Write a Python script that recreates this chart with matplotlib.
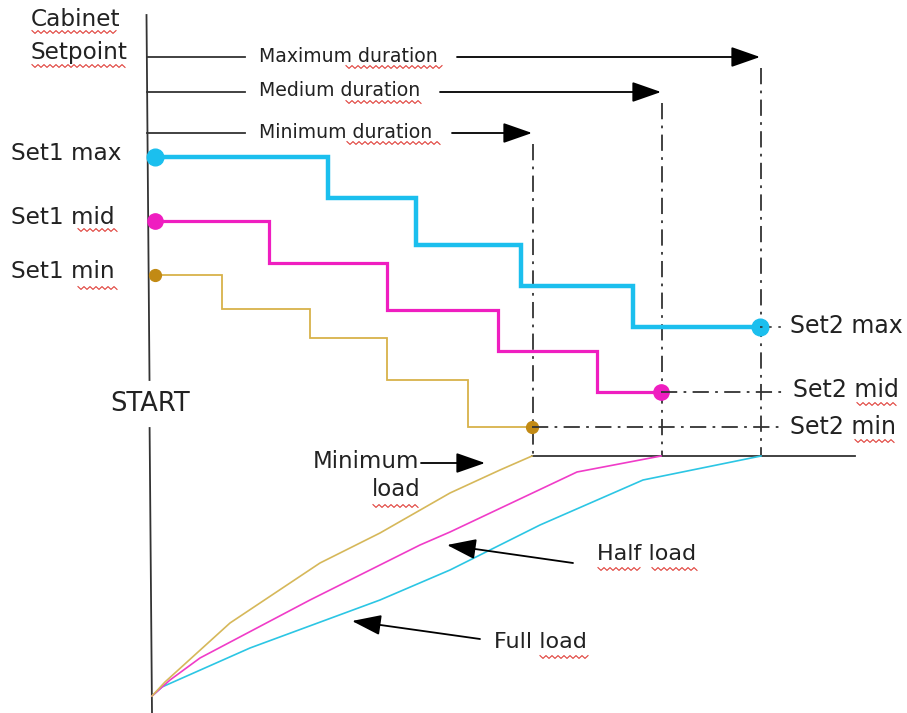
import numpy as np
import matplotlib.pyplot as plt

# step profiles (x breakpoints, y levels) in picture units
max_x = [155, 328, 416, 521, 633, 760]
max_y = [157, 198, 245, 286, 327]
mid_x = [155, 269, 387, 498, 597, 661]
mid_y = [221, 263, 310, 351, 392]
min_x = [155, 222, 310, 387, 468, 532]
min_y = [275, 309, 338, 380, 427]

# load curves
full_x = [152, 162, 250, 380, 450, 540, 643, 761]
full_y = [696, 687, 648, 600, 570, 525, 480, 456]
half_x = [152, 170, 200, 310, 420, 450, 577, 661]
half_y = [696, 680, 658, 600, 545, 532, 472, 456]
minl_x = [152, 165, 230, 320, 380, 450, 500, 532]
minl_y = [696, 682, 623, 563, 533, 493, 470, 456]

dur_labels = ["Maximum duration", "Medium duration", "Minimum duration"]
dur_y = [57, 92, 133]
dur_end = [760, 661, 532]
dur_arrow_start = [457, 440, 452]

set2_labels = ["Set2 max", "Set2 mid", "Set2 min"]
set1_labels = ["Set1 max", "Set1 mid", "Set1 min"]

cyan = "#1bbfee"
magenta = "#ef1ec0"
gold = "#d8b24a"
gold_dot = "#c28a14"
txt = "#222222"
dashdot = (0, (9, 3.5, 1.5, 3.5))

fig = plt.figure(figsize=(9.07, 7.13), dpi=100)
ax = fig.add_axes([0, 0, 1, 1])
ax.set_xlim(0, 907)
ax.set_ylim(713, 0)
ax.axis("off")


def steps(xs, ys):
    px, py = [xs[0]], [ys[0]]
    for i, y in enumerate(ys):
        px += [xs[i + 1]]
        py += [y]
        if i + 1 < len(ys):
            px += [xs[i + 1]]
            py += [ys[i + 1]]
    return px, py


def squiggle(x0, x1, y):
    xs = np.arange(x0, x1 + 0.1, 3.0)
    ys = y + np.where(np.arange(len(xs)) % 2 == 0, -1.4, 1.4)
    ax.plot(xs, ys, color="#e0403a", lw=0.8)


# vertical axis with gap for START
ax.plot([146.5, 149.5], [15, 380], color="#333333", lw=1.3)
ax.plot([149.6, 152], [428, 713], color="#333333", lw=1.3)
ax.text(150, 404, "START", ha="center", va="center", fontsize=18.5, color=txt)

# durations
for lab, y, xe, xs in zip(dur_labels, dur_y, dur_end, dur_arrow_start):
    ax.plot([147, 245], [y, y], color="#333333", lw=1.3)
    ax.text(259, y - 1, lab, ha="left", va="center", fontsize=13.6, color=txt)
    ax.annotate("", xy=(xe, y), xytext=(xs, y),
                arrowprops=dict(arrowstyle="-|>,head_length=1.0,head_width=0.35",
                                mutation_scale=18, color="black", lw=1.3,
                                shrinkA=0, shrinkB=0))
    ax.plot([xe + 1, xe + 1], [y + 11, 456], color="#333333", lw=1.3,
            linestyle=dashdot)

ax.plot([532, 855], [456, 456], color="#333333", lw=1.3)

# step profiles
for xs, ys, c, lw in [(max_x, max_y, cyan, 3.2), (mid_x, mid_y, magenta, 2.3),
                      (min_x, min_y, gold, 1.3)]:
    px, py = steps(xs, ys)
    ax.plot(px, py, color=c, lw=lw, solid_joinstyle="miter")

ax.plot([max_x[0], max_x[-1]], [max_y[0], max_y[-1]], "o", color=cyan, ms=12, ls="none")
ax.plot([mid_x[0], mid_x[-1]], [mid_y[0], mid_y[-1]], "o", color=magenta, ms=11, ls="none")
ax.plot([min_x[0], min_x[-1]], [min_y[0], min_y[-1]], "o", color=gold_dot, ms=8.5, ls="none")

# set2 leader lines
ax.plot([max_x[-1], 783], [max_y[-1], max_y[-1]], color="#333333", lw=1.2,
        linestyle=(0, (1.5, 4)))
ax.plot([mid_x[-1], 785], [mid_y[-1], mid_y[-1]], color="#333333", lw=1.3,
        linestyle=dashdot)
ax.plot([min_x[-1], 783], [min_y[-1], min_y[-1]], color="#333333", lw=1.3,
        linestyle=dashdot)
ax.text(790, max_y[-1] - 1, set2_labels[0], ha="left", va="center", fontsize=17, color=txt)
ax.text(793, mid_y[-1] - 2, set2_labels[1], ha="left", va="center", fontsize=17, color=txt)
ax.text(790, min_y[-1], set2_labels[2], ha="left", va="center", fontsize=17, color=txt)

# set1 labels
for lab, y in zip(set1_labels, [max_y[0], mid_y[0], min_y[0]]):
    ax.text(11, y - 3, lab, ha="left", va="center", fontsize=16.7, color=txt)
ax.text(31, 19, "Cabinet", ha="left", va="center", fontsize=16.7, color=txt)
ax.text(31, 52, "Setpoint", ha="left", va="center", fontsize=16.7, color=txt)

# load curves
ax.plot(full_x, full_y, color="#2cc6e4", lw=1.2)
ax.plot(half_x, half_y, color="#f03cc8", lw=1.2)
ax.plot(minl_x, minl_y, color="#d6b85a", lw=1.2)

ax.text(313, 461, "Minimum", ha="left", va="center", fontsize=16.5, color=txt)
ax.text(421, 490, "load", ha="right", va="center", fontsize=16.5, color=txt)
ax.text(597, 554, "Half load", ha="left", va="center", fontsize=16, color=txt)
ax.text(494, 642, "Full load", ha="left", va="center", fontsize=16, color=txt)

head = dict(arrowstyle="-|>,head_length=1.0,head_width=0.35", mutation_scale=18,
            color="black", lw=1.3, shrinkA=0, shrinkB=0)
ax.annotate("", xy=(485, 463), xytext=(421, 463), arrowprops=head)
ax.annotate("", xy=(447, 545), xytext=(573, 563), arrowprops=head)
ax.annotate("", xy=(352, 621), xytext=(480, 639), arrowprops=head)

# spell-check squiggles
for x0, x1, y in [(32, 118, 32), (32, 127, 66), (346, 442, 67), (346, 422, 102),
                  (347, 442, 143), (78, 118, 230), (78, 118, 288),
                  (857, 898, 404), (855, 895, 441), (373, 420, 506),
                  (598, 642, 569), (652, 698, 569), (540, 588, 657)]:
    squiggle(x0, x1, y)

fig.savefig("out.png", dpi=100)
